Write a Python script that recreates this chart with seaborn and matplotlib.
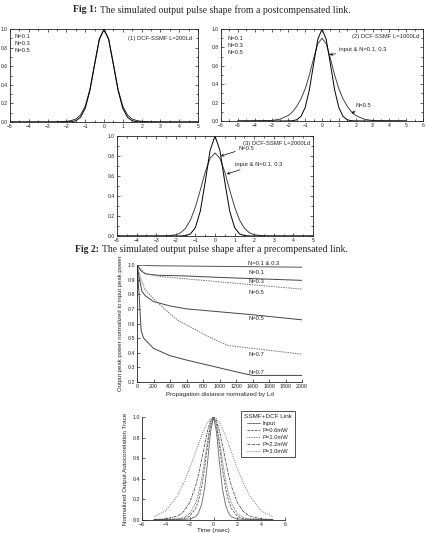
import numpy as np
import matplotlib
matplotlib.use("Agg")
import matplotlib.pyplot as plt
import seaborn as sns
from matplotlib.ticker import AutoMinorLocator

# ---- data ----
# Fig 1 pulse shapes (x in units of T0)
x_pulse = [-5, -3, -2.5, -2, -1.75, -1.5, -1.25, -1, -0.75, -0.5, -0.25, 0,
           0.25, 0.5, 0.75, 1, 1.25, 1.5, 1.75, 2, 2.5, 3, 5]
p1_input = [0, 0, 0, 0.001, 0.003, 0.013, 0.05, 0.146, 0.339, 0.618, 0.887, 1.0,
            0.887, 0.618, 0.339, 0.146, 0.05, 0.013, 0.003, 0.001, 0, 0, 0]
p1_n05 = [0, 0, 0.002, 0.007, 0.015, 0.032, 0.075, 0.17, 0.35, 0.62, 0.89, 0.995,
          0.89, 0.62, 0.35, 0.17, 0.075, 0.032, 0.015, 0.007, 0.002, 0, 0]
p2_input = p1_input
p2_n05 = [0, 0.005, 0.02, 0.06, 0.10, 0.16, 0.24, 0.35, 0.50, 0.68, 0.84, 0.90,
          0.84, 0.68, 0.50, 0.35, 0.24, 0.16, 0.10, 0.06, 0.02, 0.005, 0]
p3_n05 = [0, 0, 0, 0, 0.001, 0.004, 0.021, 0.085, 0.249, 0.54, 0.857, 1.0,
          0.857, 0.54, 0.249, 0.085, 0.021, 0.004, 0.001, 0, 0, 0, 0]
p3_input = [0, 0, 0.001, 0.012, 0.033, 0.078, 0.161, 0.29, 0.46, 0.638, 0.777, 0.83,
            0.777, 0.638, 0.46, 0.29, 0.161, 0.078, 0.033, 0.012, 0.001, 0, 0]

# Fig 2 upper: peak power vs propagation distance (Ld)
top_x = [0, 200, 2000]
top_y = [1.0, 0.995, 0.985]
n01_x = [0, 50, 100, 250, 600, 1000, 1500, 2000]
n01_y = [1.0, 0.96, 0.94, 0.93, 0.925, 0.915, 0.905, 0.895]
n05d_x = [0, 100, 300, 600, 1000, 1500, 2000]
n05d_y = [1.0, 0.94, 0.92, 0.905, 0.885, 0.86, 0.835]
n05_x = [0, 30, 60, 100, 200, 400, 600, 1000, 1400, 2000]
n05_y = [1.0, 0.9, 0.82, 0.79, 0.75, 0.72, 0.70, 0.68, 0.66, 0.625]
n07d_x = [0, 50, 100, 200, 350, 500, 700, 900, 1100, 1400, 1700, 2000]
n07d_y = [1.0, 0.9, 0.83, 0.77, 0.69, 0.62, 0.56, 0.50, 0.45, 0.43, 0.41, 0.39]
n07_x = [0, 25, 50, 80, 200, 400, 600, 900, 1200, 1400, 2000]
n07_y = [1.0, 0.8, 0.55, 0.5, 0.43, 0.38, 0.35, 0.31, 0.27, 0.245, 0.245]

# Fig 2 lower: autocorrelation traces (ns)
t_ns = [-5, -4, -3, -2.5, -2, -1.5, -1.25, -1, -0.75, -0.5, -0.25, 0,
        0.25, 0.5, 0.75, 1, 1.25, 1.5, 2, 2.5, 3, 4, 5]
ac_input = [0.005, 0.005, 0.005, 0.006, 0.01, 0.032, 0.071, 0.151, 0.305, 0.559, 0.856, 1.0,
            0.856, 0.559, 0.305, 0.151, 0.071, 0.032, 0.01, 0.006, 0.005, 0.005, 0.005]
ac_p06 = [0.005, 0.006, 0.008, 0.013, 0.036, 0.111, 0.19, 0.318, 0.50, 0.72, 0.918, 1.0,
          0.918, 0.72, 0.50, 0.318, 0.19, 0.111, 0.036, 0.013, 0.008, 0.006, 0.005]
ac_p10 = [0.006, 0.008, 0.012, 0.024, 0.061, 0.164, 0.258, 0.398, 0.576, 0.772, 0.936, 1.0,
          0.936, 0.772, 0.576, 0.398, 0.258, 0.164, 0.061, 0.024, 0.012, 0.008, 0.006]
ac_p22 = [0.004, 0.01, 0.039, 0.083, 0.169, 0.33, 0.444, 0.582, 0.729, 0.865, 0.964, 1.0,
          0.964, 0.865, 0.729, 0.582, 0.444, 0.33, 0.169, 0.083, 0.039, 0.01, 0.004]
ac_p30 = [0.03, 0.09, 0.24, 0.36, 0.50, 0.66, 0.74, 0.82, 0.89, 0.95, 0.985, 1.0,
          0.985, 0.95, 0.89, 0.82, 0.74, 0.66, 0.50, 0.36, 0.24, 0.09, 0.03]

sns.set_theme(style="ticks")
plt.rcParams['font.family'] = ['Liberation Sans', 'DejaVu Sans']

W, H = 426, 533
fig = plt.figure(figsize=(W / 100, H / 100), dpi=100)
fig.patch.set_facecolor('white')


def rect(l, t, r, b):
    return [l / W, 1 - b / H, (r - l) / W, (b - t) / H]


def style_box(ax, xlim, xticks):
    ax.set_xlim(*xlim)
    ax.set_ylim(0, 1.0)
    ax.set_xticks(xticks)
    ax.set_yticks([0, 0.2, 0.4, 0.6, 0.8, 1.0])
    ax.set_yticklabels(['0.0', '0.2', '0.4', '0.6', '0.8', '1.0'])
    ax.xaxis.set_minor_locator(AutoMinorLocator(2))
    ax.yaxis.set_minor_locator(AutoMinorLocator(2))
    ax.tick_params(which='both', direction='in', top=True, right=True,
                   labelsize=3.6, width=0.5, pad=1.5, colors='#222')
    ax.tick_params(which='major', length=2.2)
    ax.tick_params(which='minor', length=1.2)
    for s in ax.spines.values():
        s.set_linewidth(0.6)
        s.set_color('#222')


def title(y, bold, rest, xb):
    fig.text(xb / W, 1 - y / H, bold, ha='right', va='center', fontsize=7,
             fontweight='bold', family='Liberation Serif')
    fig.text((xb + 3) / W, 1 - y / H, rest, ha='left', va='center', fontsize=7,
             family='Liberation Serif')


title(10, "Fig 1:", "The simulated output pulse shape from a postcompensated link.", 97)

lw = 0.7
fs = 4.2

# panel 1
ax1 = fig.add_axes(rect(10, 29, 198, 122))
sns.lineplot(x=x_pulse, y=p1_n05, ax=ax1, color='#333', linewidth=lw)
sns.lineplot(x=x_pulse, y=p1_input, ax=ax1, color='black', linewidth=lw)
style_box(ax1, (-5, 5), range(-5, 6))
for i, t in enumerate(["N=0.1", "N=0.3", "N=0.5"]):
    ax1.text(-4.75, 0.92 - i * 0.075, t, fontsize=fs, va='center')
ax1.text(4.7, 0.9, "(1) DCF-SSMF L=200Ld", fontsize=fs, ha='right', va='center')

# panel 2
ax2 = fig.add_axes(rect(221, 29, 423, 121))
sns.lineplot(x=x_pulse, y=p2_n05, ax=ax2, color='#444', linewidth=lw)
sns.lineplot(x=x_pulse, y=p2_input, ax=ax2, color='black', linewidth=lw)
style_box(ax2, (-6, 6), range(-6, 7))
for i, t in enumerate(["N=0.1", "N=0.3", "N=0.5"]):
    ax2.text(-5.6, 0.9 - i * 0.075, t, fontsize=fs, va='center')
ax2.text(5.8, 0.92, "(2) DCF-SSMF L=1000Ld", fontsize=fs, ha='right', va='center')
ax2.annotate("input & N=0.1, 0.3", xy=(0.45, 0.72), xytext=(1.0, 0.78), fontsize=fs,
             va='center', arrowprops=dict(arrowstyle='->', lw=0.5, color='black',
                                          shrinkA=0, shrinkB=0))
ax2.annotate("N=0.5", xy=(1.75, 0.08), xytext=(2.0, 0.17), fontsize=fs,
             va='center', arrowprops=dict(arrowstyle='->', lw=0.5, color='black',
                                          shrinkA=0, shrinkB=0))

# panel 3
ax3 = fig.add_axes(rect(117, 136, 313, 236))
sns.lineplot(x=x_pulse, y=p3_input, ax=ax3, color='#444', linewidth=lw)
sns.lineplot(x=x_pulse, y=p3_n05, ax=ax3, color='black', linewidth=lw)
style_box(ax3, (-5, 5), range(-5, 6))
ax3.text(4.85, 0.93, "(3) DCF-SSMF L=2000Ld", fontsize=fs, ha='right', va='center')
ax3.annotate("N=0.5", xy=(0.3, 0.8), xytext=(1.2, 0.88), fontsize=fs,
             va='center', arrowprops=dict(arrowstyle='->', lw=0.5, color='black',
                                          shrinkA=0, shrinkB=0))
ax3.annotate("input & N=0.1, 0.3", xy=(0.6, 0.62), xytext=(1.0, 0.72), fontsize=fs,
             va='center', arrowprops=dict(arrowstyle='->', lw=0.5, color='black',
                                          shrinkA=0, shrinkB=0))

title(249, "Fig 2:", "The simulated output pulse shape after a precompensated link.", 99)

# panel 4
ax4 = fig.add_axes(rect(137, 265, 302, 382))
sns.lineplot(x=top_x, y=top_y, ax=ax4, color='#555', linewidth=lw)
sns.lineplot(x=n01_x, y=n01_y, ax=ax4, color='#444', linewidth=lw)
sns.lineplot(x=n05d_x, y=n05d_y, ax=ax4, color='#777', linewidth=lw, linestyle=(0, (1.5, 1)))
sns.lineplot(x=n05_x, y=n05_y, ax=ax4, color='#444', linewidth=lw)
sns.lineplot(x=n07d_x, y=n07d_y, ax=ax4, color='#777', linewidth=lw, linestyle=(0, (1.5, 1)))
sns.lineplot(x=n07_x, y=n07_y, ax=ax4, color='#444', linewidth=lw)
ax4.set_xlim(0, 2000)
ax4.set_ylim(0.2, 1.0)
ax4.set_xticks(range(0, 2001, 200))
ax4.set_yticks(np.arange(0.2, 1.01, 0.1))
ax4.set_yticklabels(['0.2', '0.3', '0.4', '0.5', '0.6', '0.7', '0.8', '0.9', '1.0'])
sns.despine(ax=ax4)
ax4.tick_params(direction='in', labelsize=3.8, width=0.5, length=2, pad=1.5, colors='#222')
for s in ax4.spines.values():
    s.set_linewidth(0.6)
    s.set_color('#222')
for lab, yy in [("N=0.1 & 0.3", 1.012), ("N=0.1", 0.947), ("N=0.3", 0.884),
                ("N=0.5", 0.815), ("N=0.5", 0.635), ("N=0.7", 0.39), ("N=0.7", 0.262)]:
    ax4.text(1350, yy, lab, fontsize=fs, va='center', clip_on=False)
ax4.set_xlabel("Propagation distance normalized by Ld", fontsize=4.5, labelpad=2)
ax4.set_ylabel("Output peak power normalized to input peak power", fontsize=4.3, labelpad=3)

# panel 5
ax5 = fig.add_axes(rect(142, 417, 285, 520))
sns.lineplot(x=t_ns, y=ac_input, ax=ax5, color='#666', linewidth=0.6, label="Input")
sns.lineplot(x=t_ns, y=ac_p06, ax=ax5, color='#555', linewidth=0.6,
             linestyle=(0, (3, 1.5)), label="P=0.6mW")
sns.lineplot(x=t_ns, y=ac_p10, ax=ax5, color='#555', linewidth=0.6,
             linestyle=(0, (1, 1)), label="P=1.0mW")
sns.lineplot(x=t_ns, y=ac_p22, ax=ax5, color='#444', linewidth=0.6,
             linestyle=(0, (3, 1, 1, 1)), label="P=2.2mW")
sns.lineplot(x=t_ns, y=ac_p30, ax=ax5, color='#555', linewidth=0.6,
             linestyle=(0, (1, 1.5)), label="P=3.0mW")
ax5.set_xlim(-6, 6)
ax5.set_ylim(0, 1.0)
ax5.set_xticks(range(-6, 7, 2))
ax5.set_yticks([0, 0.2, 0.4, 0.6, 0.8, 1.0])
ax5.set_yticklabels(['0.0', '0.2', '0.4', '0.6', '0.8', '1.0'])
sns.despine(ax=ax5)
ax5.tick_params(direction='in', labelsize=3.8, width=0.5, length=2, pad=1.5, colors='#222')
for s in ax5.spines.values():
    s.set_linewidth(0.6)
    s.set_color('#222')
leg = ax5.legend(title="SSMF+DCF Link", fontsize=4.2, title_fontsize=4.6,
                 loc='upper left', bbox_to_anchor=((238 - 142) / 143, 1 + 9 / 103),
                 frameon=True, fancybox=False, handlelength=2.2, labelspacing=0.35,
                 borderpad=0.5, handletextpad=0.5)
leg.get_frame().set_edgecolor('black')
leg.get_frame().set_linewidth(0.6)
ax5.set_xlabel("Time (nsec)", fontsize=4.5, labelpad=0.5)
ax5.set_ylabel("Normalized Output Autocorrelation Trace", fontsize=4.5, labelpad=3)

fig.savefig("out.png", dpi=100, facecolor='white')
